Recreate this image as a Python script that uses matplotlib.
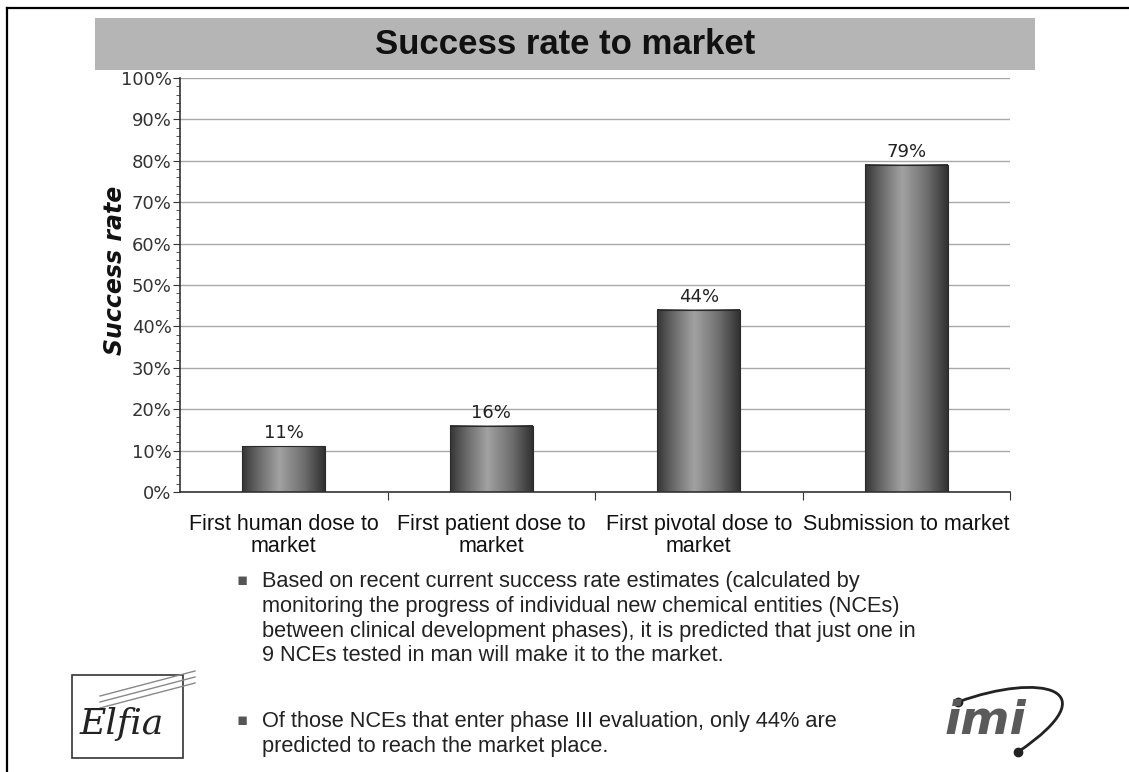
import numpy as np
import matplotlib
matplotlib.use('Agg')
import matplotlib.pyplot as plt
from matplotlib.colors import LinearSegmentedColormap
from matplotlib.patches import Rectangle, PathPatch
from matplotlib.path import Path
from matplotlib.lines import Line2D
from matplotlib.ticker import MultipleLocator, FuncFormatter

categories = ['First human dose to\nmarket', 'First patient dose to\nmarket',
              'First pivotal dose to\nmarket', 'Submission to market']
success = [11, 16, 44, 79]
bullet1 = ['Based on recent current success rate estimates (calculated by',
           'monitoring the progress of individual new chemical entities (NCEs)',
           'between clinical development phases), it is predicted that just one in',
           '9 NCEs tested in man will make it to the market.']
bullet2 = ['Of those NCEs that enter phase III evaluation, only 44% are',
           'predicted to reach the market place.']

W, H = 1129, 772
narrow = ['Liberation Sans Narrow', 'Liberation Sans', 'DejaVu Sans']

def fx(px):
    return px / W

def fy(py):
    return 1 - py / H

fig = plt.figure(figsize=(W / 100, H / 100), dpi=100)
fig.patch.set_facecolor('white')

# frame lines (top and left)
fig.add_artist(Line2D([fx(7), 1], [fy(8), fy(8)], color='black', lw=1.6))
fig.add_artist(Line2D([fx(7), fx(7)], [0, fy(8)], color='black', lw=1.6))

# title banner
fig.add_artist(Rectangle((fx(95), fy(70)), fx(1035) - fx(95), fy(18) - fy(70),
                         facecolor='#b5b5b5', edgecolor='none'))
fig.text(fx(565), fy(45), 'Success rate to market', ha='center', va='center',
         fontsize=25, fontweight='bold', family=narrow, color='#111111')

ax = fig.add_axes([fx(180), fy(492), fx(1010) - fx(180), fy(78) - fy(492)])
x = np.arange(len(categories))
width = 0.4

cmap = LinearSegmentedColormap.from_list('cyl', [
    (0.0, '#353535'), (0.2, '#6a6a6a'), (0.45, '#a2a2a2'),
    (0.75, '#6e6e6e'), (1.0, '#303030')])
grad = np.linspace(0, 1, 256).reshape(1, -1)

bars = ax.bar(x, success, width, color='none', edgecolor='#2a2a2a', lw=0.8, zorder=3)
for b, v in zip(bars, success):
    ax.imshow(grad, cmap=cmap, aspect='auto', zorder=2,
              extent=(b.get_x(), b.get_x() + b.get_width(), 0, v))
    ax.text(b.get_x() + b.get_width() / 2, v + 1.0, f'{v}%', ha='center', va='bottom',
            fontsize=13, color='#222222')

ax.set_xlim(-0.5, len(categories) - 0.5)
ax.set_ylim(0, 100)
ax.yaxis.set_major_locator(MultipleLocator(10))
ax.yaxis.set_minor_locator(MultipleLocator(2))
ax.yaxis.set_major_formatter(FuncFormatter(lambda v, p: f'{int(v)}%'))
ax.grid(axis='y', color='#a8a8a8', lw=1.0, zorder=0)
ax.set_axisbelow(True)

ax.set_xticks(x + 0.5)
ax.set_xticklabels([])
ax.set_xticks(x, minor=True)
ax.set_xticklabels(categories, minor=True, fontsize=15.5, family=narrow,
                   color='#111111', linespacing=1.05)
ax.tick_params(axis='x', which='major', length=6, color='#333333', direction='out')
ax.tick_params(axis='x', which='minor', length=0, pad=16)
ax.tick_params(axis='y', which='major', length=5, labelsize=13, labelcolor='#333333',
               color='#333333', pad=1)
ax.tick_params(axis='y', which='minor', length=3, color='#333333')

for s in ['top', 'right']:
    ax.spines[s].set_visible(False)
ax.spines['left'].set_color('#333333')
ax.spines['bottom'].set_color('#333333')
ax.spines['left'].set_linewidth(1.2)
ax.spines['bottom'].set_linewidth(1.2)

fig.text(fx(115), fy(270), 'Success rate', rotation=90, ha='center', va='center',
         fontsize=17, fontweight='bold', style='italic', color='#111111')

# bullet text
for lines, top in [(bullet1, 582), (bullet2, 722)]:
    fig.text(fx(242), fy(top - 2), '\u25aa', ha='center', va='center', fontsize=12,
             color='#555555')
    for i, line in enumerate(lines):
        fig.text(fx(262), fy(top + i * 24.5), line, ha='left', va='center',
                 fontsize=15.7, family=narrow, color='#222222')

# Elpia logo
fig.add_artist(Rectangle((fx(72), fy(758)), fx(183) - fx(72), fy(675) - fy(758),
                         facecolor='none', edgecolor='#333333', lw=1.2))
fig.text(fx(122), fy(724), 'Elfia', ha='center', va='center', fontsize=26,
         family='DejaVu Serif', style='italic', color='#222222')
for dy in (0, 6, 12):
    fig.add_artist(Line2D([fx(100), fx(195)], [fy(708 - dy), fy(683 - dy)],
                          color='#888888', lw=1.0))

# imi logo
fig.text(fx(985), fy(722), 'imi', ha='center', va='center', fontsize=34,
         fontweight='bold', style='italic', color='#5a5a5a')
pts = [(958, 702), (1040, 672), (1112, 688), (1018, 752)]
arc = Path([(fx(a), fy(b)) for a, b in pts],
           [Path.MOVETO, Path.CURVE4, Path.CURVE4, Path.CURVE4])
fig.add_artist(PathPatch(arc, transform=fig.transFigure, facecolor='none',
                         edgecolor='#222222', lw=2))
fig.add_artist(Line2D([fx(958), fx(1018)], [fy(702), fy(752)], ls='none',
                      marker='o', ms=6, color='#222222'))

fig.savefig('out.png', dpi=100)
